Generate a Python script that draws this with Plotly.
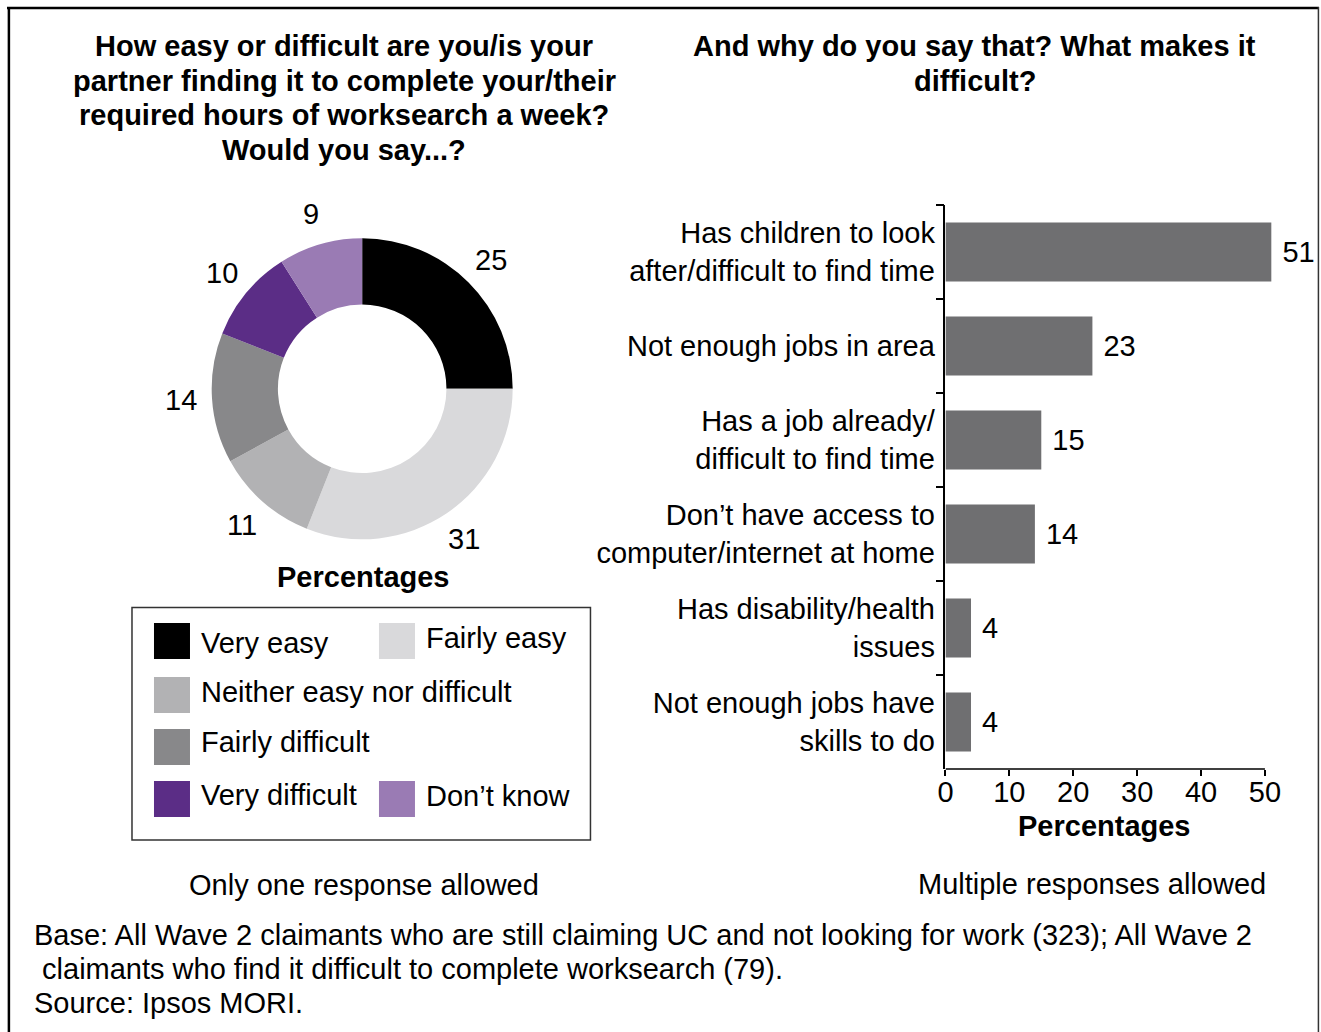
import math
import plotly.graph_objects as go

W, H = 1321, 1032
# the page places the plot 8 px in from the left and fits it to the window width
PAGE_X0, PAGE_SCALE = 8.0, 0.994
FONT = "Liberation Sans, Arial, Helvetica, sans-serif"
FS = 29

# Donut: ease of completing required worksearch hours
ease_labels = ["Very easy", "Fairly easy", "Neither easy nor difficult",
               "Fairly difficult", "Very difficult", "Don’t know"]
ease_pct = [25, 31, 11, 14, 10, 9]
ease_colors = ["#000000", "#d9d9db", "#b2b2b4", "#88888a", "#5b2d86", "#9a7bb4"]

# Bars: reasons it is difficult (multiple responses)
reasons = [
    "Has children to look<br>after/difficult to find time",
    "Not enough jobs in area",
    "Has a job already/<br>difficult to find time",
    "Don’t have access to<br>computer/internet at home",
    "Has disability/health<br>issues",
    "Not enough jobs have<br>skills to do",
]
reason_pct = [51, 23, 15, 14, 4, 4]
bar_ticks = [0, 10, 20, 30, 40, 50]

left_title = ["How easy or difficult are you/is your",
              "partner finding it to complete your/their",
              "required hours of worksearch a week?",
              "Would you say...?"]
right_title = ["And why do you say that? What makes it", "difficult?"]
base_lines = [
    "Base: All Wave 2 claimants who are still claiming UC and not looking for work (323); All Wave 2",
    " claimants who find it difficult to complete worksearch (79).",
    "Source: Ipsos MORI.",
]


def px(x):
    return (x - PAGE_X0) / PAGE_SCALE / W


def py(y):
    return 1 - y / H


fig = go.Figure()

# donut geometry (page pixels)
cx, cy, R = 362.2, 388.8, 150.5
fig.add_trace(go.Pie(
    labels=ease_labels, values=ease_pct, sort=False, direction="clockwise",
    rotation=0, hole=0.56, textinfo="none", hoverinfo="label+value",
    marker=dict(colors=ease_colors, line=dict(width=0)),
    domain=dict(x=[px(cx - R), px(cx + R)], y=[py(cy + R), py(cy - R)]),
    showlegend=False,
))

# bar axis: 0 at x=945.5 px, 50 at x=1265 px; range runs a little past 50
x0_px, x50_px = 945.5, 1265.0
unit = (x50_px - x0_px) / 50
xmax = 53
fig.add_trace(go.Bar(
    x=reason_pct, y=reasons, orientation="h", width=0.63,
    marker=dict(color="#6f6f71", line=dict(width=0)),
    text=reason_pct, texttemplate="\u00a0%{text}", textposition="outside",
    textfont=dict(size=FS, color="black", family=FONT),
    cliponaxis=False, showlegend=False, xaxis="x", yaxis="y",
))

annotations = []


def note(text, x, y, xanchor="center", bold=False, size=FS):
    t = f"<b>{text}</b>" if bold else text
    annotations.append(dict(text=t, x=px(x), y=py(y), xref="paper", yref="paper",
                            xanchor=xanchor, yanchor="middle", showarrow=False,
                            font=dict(size=size, color="black", family=FONT)))


for i, line in enumerate(left_title):
    note(line, 344.5, 46 + i * 34.7, bold=True)
for i, line in enumerate(right_title):
    note(line, 975, 46 + i * 34.5, bold=True)

# slice value labels around the donut
total = sum(ease_pct)
cum = 0
for v in ease_pct:
    theta = 2 * math.pi * (cum + v / 2) / total
    cum += v
    note(str(v), cx + 182 * math.sin(theta), cy - 182 * math.cos(theta))

note("Percentages", 364, 577, bold=True)
note("Percentages", 1105, 826, bold=True)
note("Only one response allowed", 364, 885)
note("Multiple responses allowed", 1092, 884)
for i, line in enumerate(base_lines):
    note(line, 32, 935 + i * 34, xanchor="left")

shapes = []
# outer frame
shapes.append(dict(type="line", xref="paper", yref="paper", x0=px(7), x1=px(1319),
                   y0=py(8), y1=py(8), line=dict(color="black", width=2.5)))
shapes.append(dict(type="line", xref="paper", yref="paper", x0=px(8.9), x1=px(8.9),
                   y0=py(7), y1=0, line=dict(color="black", width=2.5)))
shapes.append(dict(type="line", xref="paper", yref="paper", x0=px(1318.5), x1=px(1318.5),
                   y0=py(7), y1=0, line=dict(color="#333333", width=1.5)))

# bar chart x-axis line, from 0 to 50 only
shapes.append(dict(type="line", xref="x", yref="paper", x0=0, x1=bar_ticks[-1],
                   y0=py(769), y1=py(769), line=dict(color="black", width=1.5)))

# legend box
shapes.append(dict(type="rect", xref="paper", yref="paper", x0=px(132), x1=px(590.5),
                   y0=py(840), y1=py(607.5), line=dict(color="#333333", width=1.5)))
legend_pos = [(154, 623, 643), (379, 623, 638), (154, 677, 692),
              (154, 729, 742), (154, 781, 795), (379, 781, 796)]
for (sx, sy, ty), lab, col in zip(legend_pos, ease_labels, ease_colors):
    shapes.append(dict(type="rect", xref="paper", yref="paper", x0=px(sx), x1=px(sx + 36),
                       y0=py(sy + 36), y1=py(sy), fillcolor=col, line=dict(width=0)))
    note(lab, sx + 45, ty, xanchor="left")

fig.update_layout(
    width=W, height=H, autosize=False, margin=dict(l=0, r=0, t=0, b=0, pad=0),
    paper_bgcolor="white", plot_bgcolor="white",
    font=dict(family=FONT, size=FS, color="black"),
    annotations=annotations, shapes=shapes, showlegend=False,
    xaxis=dict(domain=[px(x0_px), px(x0_px + xmax * unit)], range=[0, xmax],
               tickvals=bar_ticks, showline=False, ticks="outside",
               ticklen=6, tickwidth=1.5, tickcolor="black", showgrid=False,
               zeroline=False, tickfont=dict(size=FS), ticklabelstandoff=-9,
               anchor="y", fixedrange=True),
    yaxis=dict(domain=[py(769), py(205)], type="category", categoryorder="array",
               categoryarray=reasons, autorange="reversed", showline=True,
               linecolor="black", linewidth=1.5, ticks="outside", ticklen=8,
               tickwidth=1.5, tickcolor="black", tickson="boundaries",
               showgrid=False, zeroline=False, tickfont=dict(size=FS),
               ticklabelstandoff=3, anchor="x", fixedrange=True),
)

fig.write_html("out.html", config={"responsive": False})
